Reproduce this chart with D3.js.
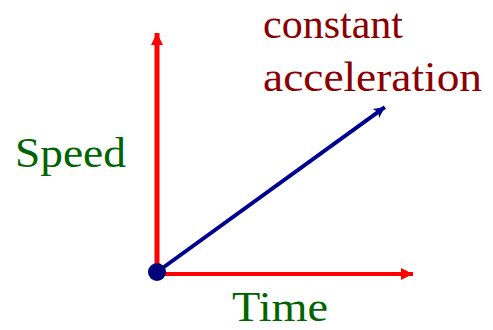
<!DOCTYPE html>
<meta charset="utf-8" />
<script src="https://d3js.org/d3.v7.min.js"></script>
<style>
  body { margin: 0; background: white; }
  .lbl { font-family: "Liberation Serif", "Times New Roman", serif; }
</style>
<body>
<svg id="chart" width="493" height="330"></svg>
<script>
  // axis extents and the speed line (time, speed)
  const axisMax = [10, 10];
  const timeValues = [0, 8.9];
  const speedValues = [0, 6.9];
  const axisLabels = ["Time", "Speed"];
  const lineLabel = ["constant", "acceleration"];

  const svg = d3.select("#chart");

  const x = d3.scaleLinear().domain([0, axisMax[0]]).range([157, 413]);
  const y = d3.scaleLinear().domain([0, axisMax[1]]).range([272, 33]);

  const defs = svg.append("defs");
  // red arrowhead for axes
  defs.append("marker")
    .attr("id", "redArrow")
    .attr("viewBox", "0 0 12 12")
    .attr("refX", 12).attr("refY", 6)
    .attr("markerWidth", 12).attr("markerHeight", 12)
    .attr("markerUnits", "userSpaceOnUse")
    .attr("orient", "auto")
    .append("path").attr("d", "M0,0 L12,6 L0,12 Z").attr("fill", "#ff0000");
  // blue arrowhead
  defs.append("marker")
    .attr("id", "blueArrow")
    .attr("viewBox", "0 0 12 12")
    .attr("refX", 12).attr("refY", 6)
    .attr("markerWidth", 13).attr("markerHeight", 11)
    .attr("markerUnits", "userSpaceOnUse")
    .attr("orient", "auto")
    .append("path").attr("d", "M0,0 L12,6 L0,12 L3,6 Z").attr("fill", "#000090");

  // y axis
  svg.append("line")
    .attr("x1", x(0)).attr("y1", y(0))
    .attr("x2", x(0)).attr("y2", y(axisMax[1]))
    .attr("stroke", "#ff0000").attr("stroke-width", 5)
    .attr("marker-end", "url(#redArrow)");

  // x axis
  svg.append("line")
    .attr("x1", x(0)).attr("y1", y(0) + 2)
    .attr("x2", x(axisMax[0])).attr("y2", y(0) + 2)
    .attr("stroke", "#ff0000").attr("stroke-width", 4)
    .attr("marker-end", "url(#redArrow)");

  // speed line
  const pts = timeValues.map((t, i) => [x(t), y(speedValues[i])]);
  svg.append("path")
    .attr("d", d3.line()(pts))
    .attr("stroke", "#000090").attr("stroke-width", 4)
    .attr("fill", "none")
    .attr("marker-end", "url(#blueArrow)");

  // origin dot
  svg.append("circle")
    .attr("cx", x(timeValues[0])).attr("cy", y(speedValues[0]))
    .attr("r", 9).attr("fill", "#00007a");

  // labels (text is a bit stretched sideways in the original)
  function label(txt, lx, ly, len, col) {
    svg.append("text").attr("class", "lbl")
      .attr("x", lx).attr("y", ly)
      .attr("font-size", 42).attr("fill", col)
      .attr("textLength", len).attr("lengthAdjust", "spacingAndGlyphs")
      .text(txt);
  }
  label(axisLabels[0], 232, 321, 96, "#006400");
  label(axisLabels[1], 15, 167, 111, "#006400");
  label(lineLabel[0], 263, 38, 140, "#8b0000");
  label(lineLabel[1], 263, 91, 219, "#8b0000");
</script>
</body>
